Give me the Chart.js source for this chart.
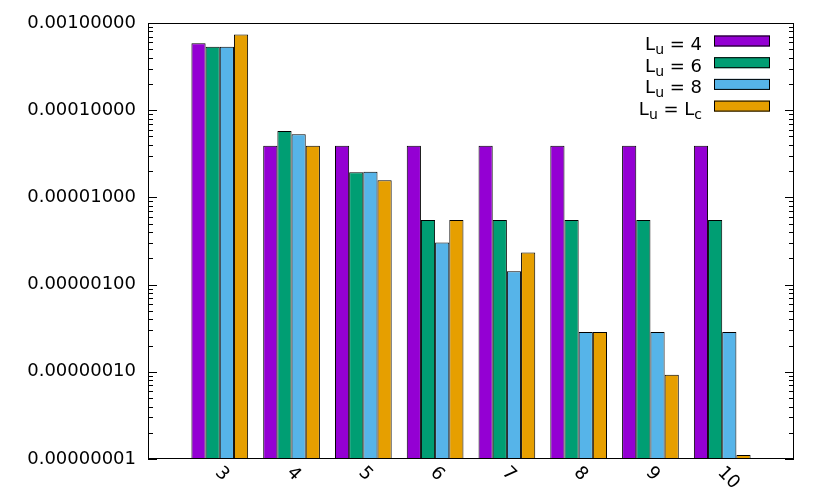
<!DOCTYPE html>
<html>
<head>
<meta charset="utf-8">
<script src="https://cdn.jsdelivr.net/npm/chart.js@4"></script>
<style>
  html, body { margin: 0; padding: 0; background: #fff; }
  #wrap { width: 830px; height: 498px; }
</style>
</head>
<body>
<div id="wrap"><canvas id="chart" width="830" height="498"></canvas></div>
<script>
const categories = ["3", "4", "5", "6", "7", "8", "9", "10"];
const seriesNames = ["L_u = 4", "L_u = 6", "L_u = 8", "L_u = L_c"];
const lu4 = [5.85e-4, 3.92e-5, 3.92e-5, 3.92e-5, 3.92e-5, 3.92e-5, 3.92e-5, 3.92e-5];
const lu6 = [5.35e-4, 5.77e-5, 1.94e-5, 5.5e-6, 5.5e-6, 5.5e-6, 5.5e-6, 5.5e-6];
const lu8 = [5.35e-4, 5.29e-5, 1.97e-5, 3.03e-6, 1.42e-6, 2.86e-7, 2.86e-7, 2.86e-7];
const luc = [7.4e-4, 3.92e-5, 1.57e-5, 5.5e-6, 2.34e-6, 2.86e-7, 9.27e-8, 1.11e-8];
const colors = ["#9400d3", "#009e73", "#56b4e9", "#e69f00"];

const FONT = "DejaVu Sans";

// one empty slot each side, like the gnuplot x range
const labels = ["", ...categories, ""];
const pad = (arr) => [null, ...arr, null];

const decor = {
  id: "decor",
  afterDraw(chart) {
    const { ctx, chartArea: a, scales } = chart;
    const x = scales.x, y = scales.y;
    ctx.save();

    // frame
    ctx.strokeStyle = "#000";
    ctx.lineWidth = 1;
    ctx.strokeRect(a.left + 0.5, a.top + 0.5, a.right - a.left - 1, a.bottom - a.top - 1);

    // inward log ticks on both sides
    ctx.beginPath();
    for (let e = -8; e <= -3; e++) {
      for (let m = 1; m <= 9; m++) {
        const v = m * Math.pow(10, e);
        if (v > y.max * 1.0001) break;
        const py = Math.round(y.getPixelForValue(v)) + 0.5;
        const len = m === 1 ? 9 : 5;
        ctx.moveTo(a.left, py); ctx.lineTo(a.left + len, py);
        ctx.moveTo(a.right, py); ctx.lineTo(a.right - len, py);
      }
    }
    ctx.stroke();

    // rotated x labels
    ctx.fillStyle = "#000";
    ctx.font = "18px '" + FONT + "'";
    ctx.textAlign = "left";
    ctx.textBaseline = "middle";
    categories.forEach((c, i) => {
      const px = x.getPixelForValue(i + 1);
      ctx.save();
      ctx.translate(px - 2, a.bottom + 11);
      ctx.rotate(Math.PI / 4);
      ctx.fillText(c, 0, 0);
      ctx.restore();
    });

    // legend with subscripts
    const boxRight = a.right - 24, boxW = 56, boxH = 11;
    ctx.textBaseline = "alphabetic";
    seriesNames.forEach((name, i) => {
      const cy = a.top + 18 + i * 21.7;
      ctx.fillStyle = colors[i];
      ctx.fillRect(boxRight - boxW, cy - boxH / 2, boxW, boxH);
      ctx.strokeStyle = "#000";
      ctx.strokeRect(boxRight - boxW + 0.5, cy - boxH / 2 + 0.5, boxW - 1, boxH - 1);

      const parts = name.split(/(_\w)/).filter((p) => p !== "");
      const widths = parts.map((p) => {
        ctx.font = (p[0] === "_" ? "14px '" : "18px '") + FONT + "'";
        return ctx.measureText(p[0] === "_" ? p.slice(1) : p).width;
      });
      let tx = boxRight - boxW - 12 - widths.reduce((s, w) => s + w, 0);
      ctx.fillStyle = "#000";
      parts.forEach((p, k) => {
        const sub = p[0] === "_";
        ctx.font = (sub ? "14px '" : "18px '") + FONT + "'";
        ctx.fillText(sub ? p.slice(1) : p, tx, cy + 9 + (sub ? 4 : 0));
        tx += widths[k];
      });
    });

    ctx.restore();
  },
};

new Chart(document.getElementById("chart"), {
  type: "bar",
  data: {
    labels,
    datasets: [lu4, lu6, lu8, luc].map((vals, i) => ({
      label: seriesNames[i],
      data: pad(vals),
      backgroundColor: colors[i],
      borderColor: "#000",
      borderWidth: 1,
      categoryPercentage: 0.79,
      barPercentage: 1,
    })),
  },
  options: {
    responsive: false,
    animation: false,
    layout: { padding: { top: 23, right: 36, left: 0, bottom: 0 } },
    plugins: {
      legend: { display: false },
      tooltip: { enabled: false },
    },
    scales: {
      x: {
        offset: false,
        grid: { display: false, drawTicks: false },
        border: { display: false },
        ticks: { display: false },
        afterFit: (s) => { s.height = 39; },
      },
      y: {
        type: "logarithmic",
        min: 1e-8,
        max: 1e-3,
        grid: { display: false, drawTicks: false },
        border: { display: false },
        ticks: {
          autoSkip: false,
          padding: 12,
          color: "#000",
          font: { family: FONT, size: 18 },
          callback: (v) => {
            const e = Math.log10(v);
            return Math.abs(e - Math.round(e)) < 1e-6 ? Number(v).toFixed(8) : "";
          },
        },
        afterFit: (s) => { s.width = 148; },
      },
    },
  },
  plugins: [decor],
});
</script>
</body>
</html>
